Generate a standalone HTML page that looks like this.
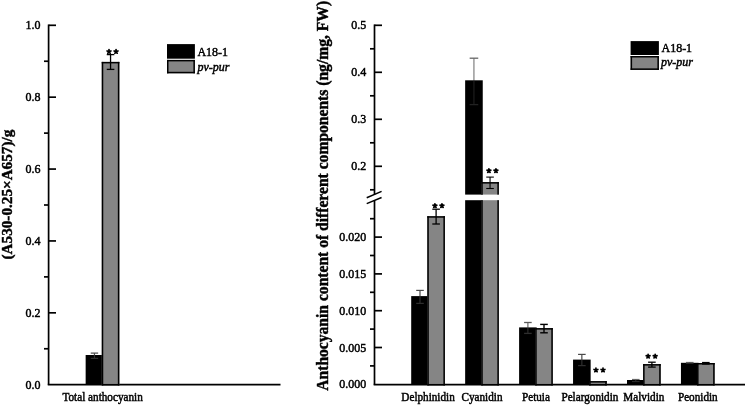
<!DOCTYPE html>
<html><head><meta charset="utf-8"><style>
html,body{margin:0;padding:0;background:#fff;}
body{width:745px;height:405px;overflow:hidden;}
svg{display:block;will-change:transform;}
text{font-family:"Liberation Serif",serif;fill:#000;stroke:#000;stroke-width:0.45px;}
</style></head><body>
<svg width="745" height="405" viewBox="0 0 745 405">
<rect width="745" height="405" fill="#fff"/>
<line x1="48.60" y1="24.45" x2="48.60" y2="384.70" stroke="#000" stroke-width="1.7" stroke-linecap="butt"/>
<line x1="47.75" y1="384.70" x2="280.50" y2="384.70" stroke="#000" stroke-width="1.7" stroke-linecap="butt"/>
<line x1="48.60" y1="25.30" x2="56.00" y2="25.30" stroke="#000" stroke-width="1.7" stroke-linecap="butt"/>
<text transform="translate(40.40,29.40) scale(1,1.07)" font-size="12" text-anchor="end" font-weight="normal" font-style="normal" >1.0</text>
<line x1="44.00" y1="61.24" x2="48.60" y2="61.24" stroke="#000" stroke-width="1.7" stroke-linecap="butt"/>
<line x1="48.60" y1="97.18" x2="56.00" y2="97.18" stroke="#000" stroke-width="1.7" stroke-linecap="butt"/>
<text transform="translate(40.40,101.28) scale(1,1.07)" font-size="12" text-anchor="end" font-weight="normal" font-style="normal" >0.8</text>
<line x1="44.00" y1="133.12" x2="48.60" y2="133.12" stroke="#000" stroke-width="1.7" stroke-linecap="butt"/>
<line x1="48.60" y1="169.06" x2="56.00" y2="169.06" stroke="#000" stroke-width="1.7" stroke-linecap="butt"/>
<text transform="translate(40.40,173.16) scale(1,1.07)" font-size="12" text-anchor="end" font-weight="normal" font-style="normal" >0.6</text>
<line x1="44.00" y1="205.00" x2="48.60" y2="205.00" stroke="#000" stroke-width="1.7" stroke-linecap="butt"/>
<line x1="48.60" y1="240.94" x2="56.00" y2="240.94" stroke="#000" stroke-width="1.7" stroke-linecap="butt"/>
<text transform="translate(40.40,245.04) scale(1,1.07)" font-size="12" text-anchor="end" font-weight="normal" font-style="normal" >0.4</text>
<line x1="44.00" y1="276.88" x2="48.60" y2="276.88" stroke="#000" stroke-width="1.7" stroke-linecap="butt"/>
<line x1="48.60" y1="312.82" x2="56.00" y2="312.82" stroke="#000" stroke-width="1.7" stroke-linecap="butt"/>
<text transform="translate(40.40,316.92) scale(1,1.07)" font-size="12" text-anchor="end" font-weight="normal" font-style="normal" >0.2</text>
<line x1="44.00" y1="348.76" x2="48.60" y2="348.76" stroke="#000" stroke-width="1.7" stroke-linecap="butt"/>
<text transform="translate(40.40,388.80) scale(1,1.07)" font-size="12" text-anchor="end" font-weight="normal" font-style="normal" >0.0</text>
<rect x="85.65" y="355.00" width="17.60" height="29.70" fill="#000"/>
<rect x="101.75" y="61.90" width="17.60" height="323.55" fill="#858585"/>
<rect x="101.75" y="61.90" width="17.60" height="1.50" fill="#000"/>
<rect x="101.75" y="383.95" width="17.60" height="1.50" fill="#000"/>
<rect x="101.75" y="61.90" width="1.50" height="323.55" fill="#000"/>
<rect x="117.85" y="61.90" width="1.50" height="323.55" fill="#000"/>
<line x1="94.45" y1="353.10" x2="94.45" y2="355.00" stroke="#4a4a4a" stroke-width="1.2" stroke-linecap="butt"/>
<line x1="90.75" y1="353.10" x2="98.15" y2="353.10" stroke="#4a4a4a" stroke-width="1.2" stroke-linecap="butt"/>
<line x1="94.45" y1="355.00" x2="94.45" y2="358.40" stroke="#2e2e2e" stroke-width="1.2" stroke-linecap="butt"/>
<line x1="90.75" y1="358.40" x2="98.15" y2="358.40" stroke="#2e2e2e" stroke-width="1.2" stroke-linecap="butt"/>
<line x1="110.55" y1="54.60" x2="110.55" y2="69.40" stroke="#000" stroke-width="1.3" stroke-linecap="butt"/>
<line x1="106.75" y1="54.60" x2="114.35" y2="54.60" stroke="#000" stroke-width="1.3" stroke-linecap="butt"/>
<line x1="106.75" y1="69.40" x2="114.35" y2="69.40" stroke="#000" stroke-width="1.3" stroke-linecap="butt"/>
<path d="M109.00,51.60L109.00,49.60M109.00,51.60L110.90,50.98M109.00,51.60L110.18,53.22M109.00,51.60L107.82,53.22M109.00,51.60L107.10,50.98" stroke="#000" stroke-width="1.7" stroke-linecap="round" fill="none"/>
<circle cx="109.00" cy="51.60" r="0.8" fill="#000"/>
<path d="M116.05,51.60L116.05,49.60M116.05,51.60L117.95,50.98M116.05,51.60L117.23,53.22M116.05,51.60L114.87,53.22M116.05,51.60L114.15,50.98" stroke="#000" stroke-width="1.7" stroke-linecap="round" fill="none"/>
<circle cx="116.05" cy="51.60" r="0.8" fill="#000"/>
<rect x="167.00" y="44.10" width="27.90" height="14.60" fill="#000"/>
<rect x="167.00" y="59.90" width="27.90" height="13.40" fill="#858585"/>
<rect x="167.00" y="59.90" width="27.90" height="1.50" fill="#000"/>
<rect x="167.00" y="71.80" width="27.90" height="1.50" fill="#000"/>
<rect x="167.00" y="59.90" width="1.50" height="13.40" fill="#000"/>
<rect x="193.40" y="59.90" width="1.50" height="13.40" fill="#000"/>
<text transform="translate(197.40,55.60) scale(1,1.07)" font-size="12" text-anchor="start" font-weight="normal" font-style="normal" >A18-1</text>
<text transform="translate(197.40,70.70) scale(1,1.07)" font-size="12" text-anchor="start" font-weight="normal" font-style="italic" >pv-pur</text>
<text transform="translate(102.60,400.90) scale(1,1.07)" font-size="11.2" text-anchor="middle" font-weight="normal" font-style="normal" >Total anthocyanin</text>
<text transform="translate(12.1,194.6) rotate(-90)" font-size="15.2" font-weight="bold" text-anchor="middle">(A530-0.25×A657)/g</text>
<line x1="374.50" y1="24.45" x2="374.50" y2="194.50" stroke="#000" stroke-width="1.7" stroke-linecap="butt"/>
<line x1="374.50" y1="200.50" x2="374.50" y2="384.70" stroke="#000" stroke-width="1.7" stroke-linecap="butt"/>
<line x1="373.65" y1="384.70" x2="745.00" y2="384.70" stroke="#000" stroke-width="1.7" stroke-linecap="butt"/>
<line x1="374.50" y1="25.30" x2="382.00" y2="25.30" stroke="#000" stroke-width="1.7" stroke-linecap="butt"/>
<text transform="translate(366.20,29.40) scale(1,1.07)" font-size="12" text-anchor="end" font-weight="normal" font-style="normal" >0.5</text>
<line x1="370.00" y1="48.80" x2="374.50" y2="48.80" stroke="#000" stroke-width="1.7" stroke-linecap="butt"/>
<line x1="374.50" y1="72.30" x2="382.00" y2="72.30" stroke="#000" stroke-width="1.7" stroke-linecap="butt"/>
<text transform="translate(366.20,76.40) scale(1,1.07)" font-size="12" text-anchor="end" font-weight="normal" font-style="normal" >0.4</text>
<line x1="370.00" y1="95.80" x2="374.50" y2="95.80" stroke="#000" stroke-width="1.7" stroke-linecap="butt"/>
<line x1="374.50" y1="119.30" x2="382.00" y2="119.30" stroke="#000" stroke-width="1.7" stroke-linecap="butt"/>
<text transform="translate(366.20,123.40) scale(1,1.07)" font-size="12" text-anchor="end" font-weight="normal" font-style="normal" >0.3</text>
<line x1="370.00" y1="142.80" x2="374.50" y2="142.80" stroke="#000" stroke-width="1.7" stroke-linecap="butt"/>
<line x1="374.50" y1="166.30" x2="382.00" y2="166.30" stroke="#000" stroke-width="1.7" stroke-linecap="butt"/>
<text transform="translate(366.20,170.40) scale(1,1.07)" font-size="12" text-anchor="end" font-weight="normal" font-style="normal" >0.2</text>
<line x1="370.00" y1="189.80" x2="374.50" y2="189.80" stroke="#000" stroke-width="1.7" stroke-linecap="butt"/>
<line x1="374.50" y1="237.10" x2="382.00" y2="237.10" stroke="#000" stroke-width="1.7" stroke-linecap="butt"/>
<text transform="translate(366.20,241.20) scale(1,1.07)" font-size="12" text-anchor="end" font-weight="normal" font-style="normal" >0.020</text>
<line x1="370.00" y1="218.70" x2="374.50" y2="218.70" stroke="#000" stroke-width="1.7" stroke-linecap="butt"/>
<line x1="374.50" y1="273.90" x2="382.00" y2="273.90" stroke="#000" stroke-width="1.7" stroke-linecap="butt"/>
<text transform="translate(366.20,278.00) scale(1,1.07)" font-size="12" text-anchor="end" font-weight="normal" font-style="normal" >0.015</text>
<line x1="370.00" y1="255.50" x2="374.50" y2="255.50" stroke="#000" stroke-width="1.7" stroke-linecap="butt"/>
<line x1="374.50" y1="310.70" x2="382.00" y2="310.70" stroke="#000" stroke-width="1.7" stroke-linecap="butt"/>
<text transform="translate(366.20,314.80) scale(1,1.07)" font-size="12" text-anchor="end" font-weight="normal" font-style="normal" >0.010</text>
<line x1="370.00" y1="292.30" x2="374.50" y2="292.30" stroke="#000" stroke-width="1.7" stroke-linecap="butt"/>
<line x1="374.50" y1="347.50" x2="382.00" y2="347.50" stroke="#000" stroke-width="1.7" stroke-linecap="butt"/>
<text transform="translate(366.20,351.60) scale(1,1.07)" font-size="12" text-anchor="end" font-weight="normal" font-style="normal" >0.005</text>
<line x1="370.00" y1="329.10" x2="374.50" y2="329.10" stroke="#000" stroke-width="1.7" stroke-linecap="butt"/>
<text transform="translate(366.20,388.40) scale(1,1.07)" font-size="12" text-anchor="end" font-weight="normal" font-style="normal" >0.000</text>
<line x1="370.00" y1="365.90" x2="374.50" y2="365.90" stroke="#000" stroke-width="1.7" stroke-linecap="butt"/>
<line x1="366.70" y1="197.70" x2="381.60" y2="191.40" stroke="#000" stroke-width="1.5" stroke-linecap="butt"/>
<line x1="366.70" y1="203.60" x2="381.60" y2="197.50" stroke="#000" stroke-width="1.5" stroke-linecap="butt"/>
<rect x="411.20" y="296.10" width="17.60" height="88.60" fill="#000"/>
<rect x="427.30" y="216.20" width="17.60" height="169.25" fill="#858585"/>
<rect x="427.30" y="216.20" width="17.60" height="1.50" fill="#000"/>
<rect x="427.30" y="383.95" width="17.60" height="1.50" fill="#000"/>
<rect x="427.30" y="216.20" width="1.50" height="169.25" fill="#000"/>
<rect x="443.40" y="216.20" width="1.50" height="169.25" fill="#000"/>
<line x1="420.00" y1="290.40" x2="420.00" y2="296.10" stroke="#4a4a4a" stroke-width="1.2" stroke-linecap="butt"/>
<line x1="416.20" y1="290.40" x2="423.80" y2="290.40" stroke="#4a4a4a" stroke-width="1.2" stroke-linecap="butt"/>
<line x1="420.00" y1="296.10" x2="420.00" y2="303.40" stroke="#2e2e2e" stroke-width="1.2" stroke-linecap="butt"/>
<line x1="416.20" y1="303.40" x2="423.80" y2="303.40" stroke="#2e2e2e" stroke-width="1.2" stroke-linecap="butt"/>
<line x1="436.10" y1="209.20" x2="436.10" y2="224.00" stroke="#000" stroke-width="1.3" stroke-linecap="butt"/>
<line x1="432.30" y1="209.20" x2="439.90" y2="209.20" stroke="#000" stroke-width="1.3" stroke-linecap="butt"/>
<line x1="432.30" y1="224.00" x2="439.90" y2="224.00" stroke="#000" stroke-width="1.3" stroke-linecap="butt"/>
<path d="M434.90,205.80L434.90,203.80M434.90,205.80L436.80,205.18M434.90,205.80L436.08,207.42M434.90,205.80L433.72,207.42M434.90,205.80L433.00,205.18" stroke="#000" stroke-width="1.7" stroke-linecap="round" fill="none"/>
<circle cx="434.90" cy="205.80" r="0.8" fill="#000"/>
<path d="M441.95,205.80L441.95,203.80M441.95,205.80L443.85,205.18M441.95,205.80L443.13,207.42M441.95,205.80L440.77,207.42M441.95,205.80L440.05,205.18" stroke="#000" stroke-width="1.7" stroke-linecap="round" fill="none"/>
<circle cx="441.95" cy="205.80" r="0.8" fill="#000"/>
<rect x="465.15" y="80.30" width="17.60" height="114.30" fill="#000"/>
<rect x="481.25" y="182.10" width="17.60" height="12.50" fill="#858585"/>
<rect x="481.25" y="182.10" width="17.60" height="1.50" fill="#000"/>
<rect x="481.25" y="182.10" width="1.50" height="12.50" fill="#000"/>
<rect x="497.35" y="182.10" width="1.50" height="12.50" fill="#000"/>
<rect x="465.15" y="200.20" width="17.60" height="184.50" fill="#000"/>
<rect x="481.25" y="200.20" width="17.60" height="185.25" fill="#858585"/>
<rect x="481.25" y="383.95" width="17.60" height="1.50" fill="#000"/>
<rect x="481.25" y="200.20" width="1.50" height="185.25" fill="#000"/>
<rect x="497.35" y="200.20" width="1.50" height="185.25" fill="#000"/>
<line x1="473.95" y1="58.20" x2="473.95" y2="80.30" stroke="#666" stroke-width="1.0" stroke-linecap="butt"/>
<line x1="469.65" y1="58.20" x2="478.25" y2="58.20" stroke="#666" stroke-width="1.3" stroke-linecap="butt"/>
<line x1="473.95" y1="80.30" x2="473.95" y2="104.60" stroke="#222" stroke-width="1.0" stroke-linecap="butt"/>
<line x1="469.65" y1="104.60" x2="478.25" y2="104.60" stroke="#222" stroke-width="1.3" stroke-linecap="butt"/>
<line x1="490.05" y1="177.10" x2="490.05" y2="188.50" stroke="#000" stroke-width="1.1" stroke-linecap="butt"/>
<line x1="486.25" y1="177.10" x2="493.85" y2="177.10" stroke="#000" stroke-width="1.1" stroke-linecap="butt"/>
<line x1="486.25" y1="188.50" x2="493.85" y2="188.50" stroke="#000" stroke-width="1.1" stroke-linecap="butt"/>
<path d="M488.90,170.80L488.90,168.80M488.90,170.80L490.80,170.18M488.90,170.80L490.08,172.42M488.90,170.80L487.72,172.42M488.90,170.80L487.00,170.18" stroke="#000" stroke-width="1.7" stroke-linecap="round" fill="none"/>
<circle cx="488.90" cy="170.80" r="0.8" fill="#000"/>
<path d="M495.95,170.80L495.95,168.80M495.95,170.80L497.85,170.18M495.95,170.80L497.13,172.42M495.95,170.80L494.77,172.42M495.95,170.80L494.05,170.18" stroke="#000" stroke-width="1.7" stroke-linecap="round" fill="none"/>
<circle cx="495.95" cy="170.80" r="0.8" fill="#000"/>
<rect x="519.10" y="327.40" width="17.60" height="57.30" fill="#000"/>
<rect x="535.20" y="328.10" width="17.60" height="57.35" fill="#858585"/>
<rect x="535.20" y="328.10" width="17.60" height="1.50" fill="#000"/>
<rect x="535.20" y="383.95" width="17.60" height="1.50" fill="#000"/>
<rect x="535.20" y="328.10" width="1.50" height="57.35" fill="#000"/>
<rect x="551.30" y="328.10" width="1.50" height="57.35" fill="#000"/>
<line x1="527.90" y1="322.50" x2="527.90" y2="327.40" stroke="#5a5a5a" stroke-width="1.1" stroke-linecap="butt"/>
<line x1="524.10" y1="322.50" x2="531.70" y2="322.50" stroke="#5a5a5a" stroke-width="1.3" stroke-linecap="butt"/>
<line x1="527.90" y1="327.40" x2="527.90" y2="333.40" stroke="#2e2e2e" stroke-width="1.1" stroke-linecap="butt"/>
<line x1="524.10" y1="333.40" x2="531.70" y2="333.40" stroke="#2e2e2e" stroke-width="1.3" stroke-linecap="butt"/>
<line x1="544.00" y1="324.40" x2="544.00" y2="332.80" stroke="#000" stroke-width="1.4" stroke-linecap="butt"/>
<line x1="540.20" y1="324.40" x2="547.80" y2="324.40" stroke="#000" stroke-width="1.4" stroke-linecap="butt"/>
<line x1="540.20" y1="332.80" x2="547.80" y2="332.80" stroke="#000" stroke-width="1.4" stroke-linecap="butt"/>
<rect x="573.05" y="359.60" width="17.60" height="25.10" fill="#000"/>
<rect x="589.15" y="381.10" width="17.60" height="4.35" fill="#858585"/>
<rect x="589.15" y="381.10" width="17.60" height="1.50" fill="#000"/>
<rect x="589.15" y="383.95" width="17.60" height="1.50" fill="#000"/>
<rect x="589.15" y="381.10" width="1.50" height="4.35" fill="#000"/>
<rect x="605.25" y="381.10" width="1.50" height="4.35" fill="#000"/>
<line x1="581.85" y1="354.40" x2="581.85" y2="359.60" stroke="#4a4a4a" stroke-width="1.2" stroke-linecap="butt"/>
<line x1="578.05" y1="354.40" x2="585.65" y2="354.40" stroke="#4a4a4a" stroke-width="1.2" stroke-linecap="butt"/>
<line x1="581.85" y1="359.60" x2="581.85" y2="365.60" stroke="#2e2e2e" stroke-width="1.2" stroke-linecap="butt"/>
<line x1="578.05" y1="365.60" x2="585.65" y2="365.60" stroke="#2e2e2e" stroke-width="1.2" stroke-linecap="butt"/>
<path d="M595.95,370.10L595.95,368.10M595.95,370.10L597.85,369.48M595.95,370.10L597.13,371.72M595.95,370.10L594.77,371.72M595.95,370.10L594.05,369.48" stroke="#000" stroke-width="1.7" stroke-linecap="round" fill="none"/>
<circle cx="595.95" cy="370.10" r="0.8" fill="#000"/>
<path d="M603.00,370.10L603.00,368.10M603.00,370.10L604.90,369.48M603.00,370.10L604.18,371.72M603.00,370.10L601.82,371.72M603.00,370.10L601.10,369.48" stroke="#000" stroke-width="1.7" stroke-linecap="round" fill="none"/>
<circle cx="603.00" cy="370.10" r="0.8" fill="#000"/>
<rect x="627.00" y="380.00" width="17.60" height="4.70" fill="#000"/>
<rect x="643.10" y="364.10" width="17.60" height="21.35" fill="#858585"/>
<rect x="643.10" y="364.10" width="17.60" height="1.50" fill="#000"/>
<rect x="643.10" y="383.95" width="17.60" height="1.50" fill="#000"/>
<rect x="643.10" y="364.10" width="1.50" height="21.35" fill="#000"/>
<rect x="659.20" y="364.10" width="1.50" height="21.35" fill="#000"/>
<line x1="635.80" y1="379.40" x2="635.80" y2="380.00" stroke="#555" stroke-width="1.0" stroke-linecap="butt"/>
<line x1="632.00" y1="379.40" x2="639.60" y2="379.40" stroke="#555" stroke-width="1.0" stroke-linecap="butt"/>
<line x1="635.80" y1="380.00" x2="635.80" y2="381.60" stroke="#2e2e2e" stroke-width="1.0" stroke-linecap="butt"/>
<line x1="632.00" y1="381.60" x2="639.60" y2="381.60" stroke="#2e2e2e" stroke-width="1.0" stroke-linecap="butt"/>
<line x1="651.90" y1="362.20" x2="651.90" y2="367.10" stroke="#000" stroke-width="1.3" stroke-linecap="butt"/>
<line x1="648.10" y1="362.20" x2="655.70" y2="362.20" stroke="#000" stroke-width="1.3" stroke-linecap="butt"/>
<line x1="648.10" y1="367.10" x2="655.70" y2="367.10" stroke="#000" stroke-width="1.3" stroke-linecap="butt"/>
<path d="M648.10,356.30L648.10,354.30M648.10,356.30L650.00,355.68M648.10,356.30L649.28,357.92M648.10,356.30L646.92,357.92M648.10,356.30L646.20,355.68" stroke="#000" stroke-width="1.7" stroke-linecap="round" fill="none"/>
<circle cx="648.10" cy="356.30" r="0.8" fill="#000"/>
<path d="M655.15,356.30L655.15,354.30M655.15,356.30L657.05,355.68M655.15,356.30L656.33,357.92M655.15,356.30L653.97,357.92M655.15,356.30L653.25,355.68" stroke="#000" stroke-width="1.7" stroke-linecap="round" fill="none"/>
<circle cx="655.15" cy="356.30" r="0.8" fill="#000"/>
<rect x="680.95" y="362.80" width="17.60" height="21.90" fill="#000"/>
<rect x="697.05" y="363.00" width="17.60" height="22.45" fill="#858585"/>
<rect x="697.05" y="363.00" width="17.60" height="1.50" fill="#000"/>
<rect x="697.05" y="383.95" width="17.60" height="1.50" fill="#000"/>
<rect x="697.05" y="363.00" width="1.50" height="22.45" fill="#000"/>
<rect x="713.15" y="363.00" width="1.50" height="22.45" fill="#000"/>
<line x1="689.75" y1="362.40" x2="689.75" y2="362.80" stroke="#555" stroke-width="1.0" stroke-linecap="butt"/>
<line x1="685.95" y1="362.40" x2="693.55" y2="362.40" stroke="#555" stroke-width="1.0" stroke-linecap="butt"/>
<line x1="689.75" y1="362.80" x2="689.75" y2="363.40" stroke="#2e2e2e" stroke-width="1.0" stroke-linecap="butt"/>
<line x1="685.95" y1="363.40" x2="693.55" y2="363.40" stroke="#2e2e2e" stroke-width="1.0" stroke-linecap="butt"/>
<line x1="705.85" y1="362.60" x2="705.85" y2="364.00" stroke="#000" stroke-width="1.4" stroke-linecap="butt"/>
<line x1="702.05" y1="362.60" x2="709.65" y2="362.60" stroke="#000" stroke-width="1.4" stroke-linecap="butt"/>
<line x1="702.05" y1="364.00" x2="709.65" y2="364.00" stroke="#000" stroke-width="1.4" stroke-linecap="butt"/>
<text transform="translate(428.05,400.80) scale(1,1.07)" font-size="11.2" text-anchor="middle" font-weight="normal" font-style="normal" >Delphinidin</text>
<text transform="translate(482.00,400.80) scale(1,1.07)" font-size="11.2" text-anchor="middle" font-weight="normal" font-style="normal" >Cyanidin</text>
<text transform="translate(535.95,400.80) scale(1,1.07)" font-size="11.2" text-anchor="middle" font-weight="normal" font-style="normal" >Petuia</text>
<text transform="translate(589.90,400.80) scale(1,1.07)" font-size="11.2" text-anchor="middle" font-weight="normal" font-style="normal" >Pelargonidin</text>
<text transform="translate(643.85,400.80) scale(1,1.07)" font-size="11.2" text-anchor="middle" font-weight="normal" font-style="normal" >Malvidin</text>
<text transform="translate(697.80,400.80) scale(1,1.07)" font-size="11.2" text-anchor="middle" font-weight="normal" font-style="normal" >Peonidin</text>
<rect x="630.60" y="41.10" width="28.30" height="13.90" fill="#000"/>
<rect x="630.60" y="56.00" width="28.30" height="13.90" fill="#858585"/>
<rect x="630.60" y="56.00" width="28.30" height="1.50" fill="#000"/>
<rect x="630.60" y="68.40" width="28.30" height="1.50" fill="#000"/>
<rect x="630.60" y="56.00" width="1.50" height="13.90" fill="#000"/>
<rect x="657.40" y="56.00" width="1.50" height="13.90" fill="#000"/>
<text transform="translate(661.50,52.00) scale(1,1.07)" font-size="12" text-anchor="start" font-weight="normal" font-style="normal" >A18-1</text>
<text transform="translate(661.00,66.30) scale(1,1.07)" font-size="12" text-anchor="start" font-weight="normal" font-style="italic" >pv-pur</text>
<text transform="translate(328.3,195.8) rotate(-90) scale(0.963,1)" font-size="16.2" font-weight="bold" text-anchor="middle" style="stroke-width:0.45px">Anthocyanin content of different components (ng/mg, FW)</text>
</svg></body></html>
